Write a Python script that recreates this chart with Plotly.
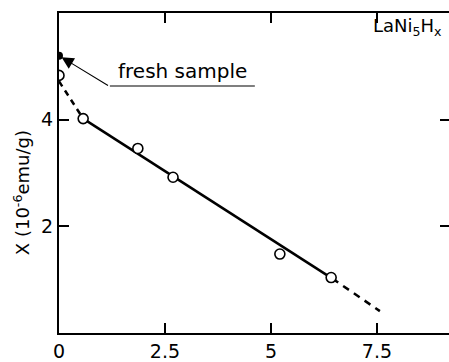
import plotly.graph_objects as go

# Hydrogen content x in LaNi5Hx and susceptibility chi (10^-6 emu/g)
x_meas = [0.0, 0.57, 1.86, 2.69, 5.21, 6.42]
chi_meas = [4.83, 4.02, 3.46, 2.92, 1.48, 1.04]

x_fresh = [0.0]
chi_fresh = [5.2]

# guide lines through the data
x_solid = [0.57, 6.45]
chi_solid = [4.02, 1.02]
x_dash_lo = [0.0, 0.57]
chi_dash_lo = [4.72, 4.02]
x_dash_hi = [6.45, 7.57]
chi_dash_hi = [1.02, 0.41]

x_ticks = [0, 2.5, 5, 7.5]
x_ticktext = ["0", "2.5", "5", "7.5"]
y_ticks = [2, 4]

FONT = "DejaVu Sans"
X_RANGE = [0, 9.2]
Y_RANGE = [0, 6.0]

fig = go.Figure()

fig.add_trace(go.Scatter(x=x_dash_lo, y=chi_dash_lo, mode="lines",
                         line=dict(color="black", width=2.5, dash="6px,5px")))
fig.add_trace(go.Scatter(x=x_solid, y=chi_solid, mode="lines",
                         line=dict(color="black", width=2.5)))
fig.add_trace(go.Scatter(x=x_dash_hi, y=chi_dash_hi, mode="lines",
                         line=dict(color="black", width=2.5, dash="7px,6px")))
fig.add_trace(go.Scatter(x=x_meas, y=chi_meas, mode="markers",
                         marker=dict(symbol="circle", size=10, color="white",
                                     line=dict(color="black", width=1.6))))
fig.add_trace(go.Scatter(x=x_fresh, y=chi_fresh, mode="markers",
                         marker=dict(symbol="circle", size=8, color="black")))
# carrier for the right-hand tick axis
fig.add_trace(go.Scatter(x=[None], y=[None], xaxis="x", yaxis="y2",
                         mode="markers", hoverinfo="skip"))

# label for the unannealed sample with a bent leader
fig.add_annotation(x=0, y=5.2, xref="x", yref="y", text=" ", showarrow=True,
                   ax=51, ay=31, arrowhead=2, arrowsize=2.2, arrowwidth=1.1,
                   arrowcolor="black", standoff=3,
                   font=dict(family=FONT, size=4))
fig.add_shape(type="line", xref="x", yref="y", x0=1.2, y0=4.63, x1=4.62, y1=4.63,
              line=dict(color="black", width=1.1))
fig.add_annotation(x=2.92, y=4.63, xref="x", yref="y", text="fresh sample",
                   showarrow=False, yanchor="bottom", yshift=1,
                   font=dict(family=FONT, size=20, color="black"))
fig.add_annotation(x=0.988, y=0.957, xref="paper", yref="paper",
                   text="LaNi<sub>5</sub>H<sub>x</sub>", showarrow=False,
                   xanchor="right", yanchor="middle",
                   font=dict(family=FONT, size=18, color="black"))

# y-axis title, set slightly below the middle of the axis
fig.add_annotation(x=-0.095, y=0.44, xref="paper", yref="paper",
                   text="X (10<sup>-6</sup>emu/g)", textangle=-90,
                   showarrow=False, xanchor="center", yanchor="middle",
                   font=dict(family=FONT, size=18, color="black"))

fig.update_layout(
    width=449, height=362,
    margin=dict(l=59, r=0, t=13, b=25),
    paper_bgcolor="white", plot_bgcolor="white",
    showlegend=False,
    xaxis=dict(range=X_RANGE, tickvals=x_ticks, ticktext=x_ticktext,
               ticks="inside", ticklen=10, tickwidth=1.5, tickcolor="black",
               showline=True, linecolor="black", linewidth=2, mirror="ticks",
               showgrid=False, zeroline=False,
               tickfont=dict(family=FONT, size=19, color="black")),
    yaxis=dict(range=Y_RANGE, tickvals=y_ticks,
               ticks="inside", ticklen=10, tickwidth=1.5, tickcolor="black",
               showline=True, linecolor="black", linewidth=2,
               showgrid=False, zeroline=False,
               tickfont=dict(family=FONT, size=19, color="black")),
    yaxis2=dict(range=Y_RANGE, overlaying="y", side="right", anchor="x",
                tickvals=y_ticks, ticks="inside", ticklen=9, tickwidth=1.5,
                tickcolor="black", showline=False, showticklabels=False,
                showgrid=False, zeroline=False),
)

fig.write_html("out.html")
